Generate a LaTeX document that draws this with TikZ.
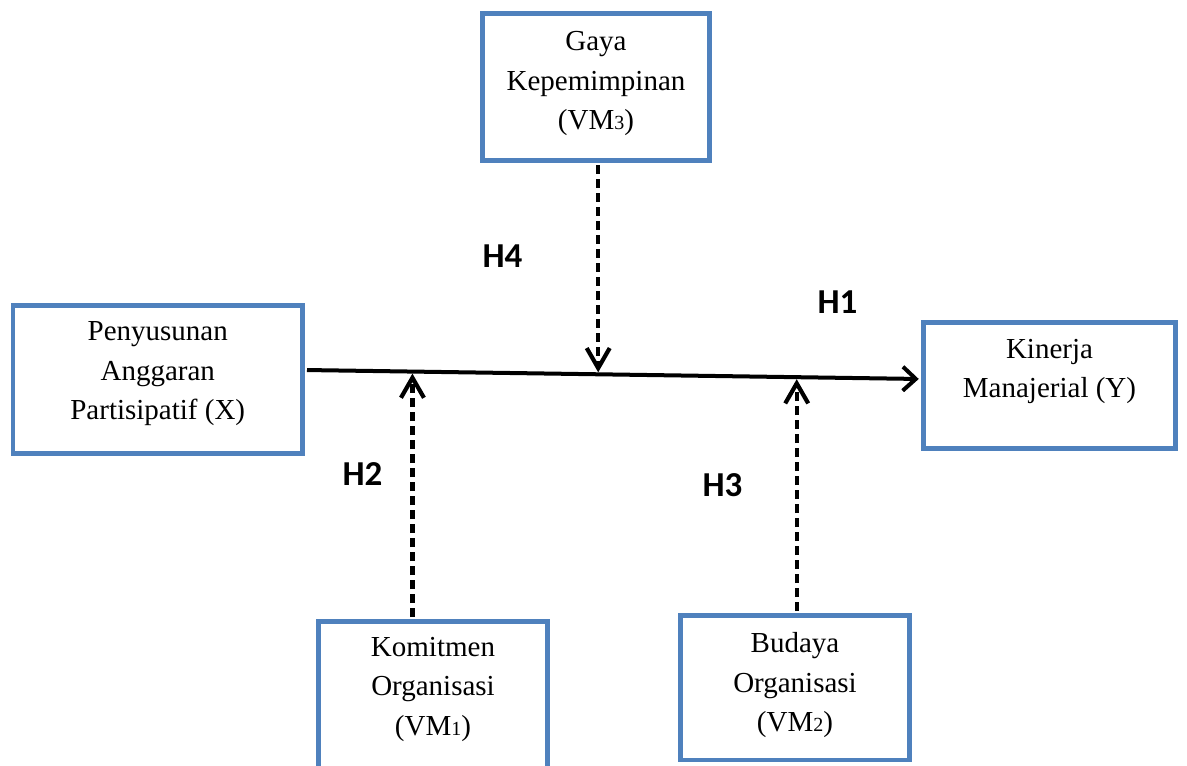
\documentclass[tikz,border=0pt]{standalone}
\usepackage{fontspec}
\setmainfont{Liberation Serif}
\newfontfamily\lblfont{Carlito}
\usetikzlibrary{arrows.meta}
\definecolor{boxblue}{HTML}{4F81BD}
\tikzset{
  box/.style={draw=boxblue, line width=4.5pt, inner sep=0pt, fill=white},
  txt/.style={font=\fontsize{29}{39.5}\selectfont, align=center, anchor=north, inner sep=0pt},
  hlabel/.style={font=\lblfont\bfseries\fontsize{35}{35}\selectfont, inner sep=0pt},
  solidarrow/.style={line width=4pt, shorten <=2.25pt, shorten >=2.5pt, -{Straight Barb[length=13pt,width=24pt]}},
  dasharrow/.style={line width=4.2pt, dash pattern=on 9pt off 5pt, shorten <=2.25pt, shorten >=2pt, -{Straight Barb[length=20pt,width=23pt]}},
}
\newcommand{\smalldigit}[1]{{\fontsize{20}{20}\selectfont #1}}
\begin{document}
\begin{tikzpicture}[x=1pt,y=-1pt]
\useasboundingbox (0,0) rectangle (1187,766);
\clip (0,0) rectangle (1187,766);
% boxes
\node[box, minimum width=227pt, minimum height=147pt] (gaya) at (596,87) {};
\node[box, minimum width=289.5pt, minimum height=148pt] (x) at (157.75,379.5) {};
\node[box, minimum width=252pt, minimum height=126pt] (y) at (1049.5,385.5) {};
\node[box, minimum width=229pt, minimum height=180pt] (vm1) at (433,711.5) {};
\node[box, minimum width=229pt, minimum height=144.5pt] (vm2) at (795,687.75) {};
% texts
\node[txt] (tgaya) at ([yshift=-20pt]gaya.north) {Gaya\\Kepemimpinan\\(VM\smalldigit{3})};
\node[txt] (tx) at ([yshift=-18.5pt]x.north) {Penyusunan\\Anggaran\\Partisipatif (X)};
\node[txt] (ty) at ([yshift=-18.5pt]y.north) {Kinerja\\Manajerial (Y)};
\node[txt] (tvm1) at ([yshift=-17.5pt]vm1.north) {Komitmen\\Organisasi\\(VM\smalldigit{1})};
\node[txt] (tvm2) at ([yshift=-19pt]vm2.north) {Budaya\\Organisasi\\(VM\smalldigit{2})};
% labels
\node[hlabel] (h4) at (502.5,256.5) {H4};
\node[hlabel] (h1) at (837.5,302) {H1};
\node[hlabel] (h2) at (362.5,474.5) {H2};
\node[hlabel] (h3) at (722.5,485) {H3};
% main arrow
\draw[solidarrow] ([yshift=9.5pt]x.east) -- ([yshift=6.5pt]y.west)
  coordinate[pos=0.1747] (p1) coordinate[pos=0.476] (p3) coordinate[pos=0.798] (p2);
% moderating arrows
\draw[dasharrow] (p3 |- gaya.south) -- (p3);
\draw[dasharrow] (p1 |- vm1.north) -- (p1);
\draw[dasharrow] (p2 |- vm2.north) -- (p2);
\end{tikzpicture}
\end{document}
